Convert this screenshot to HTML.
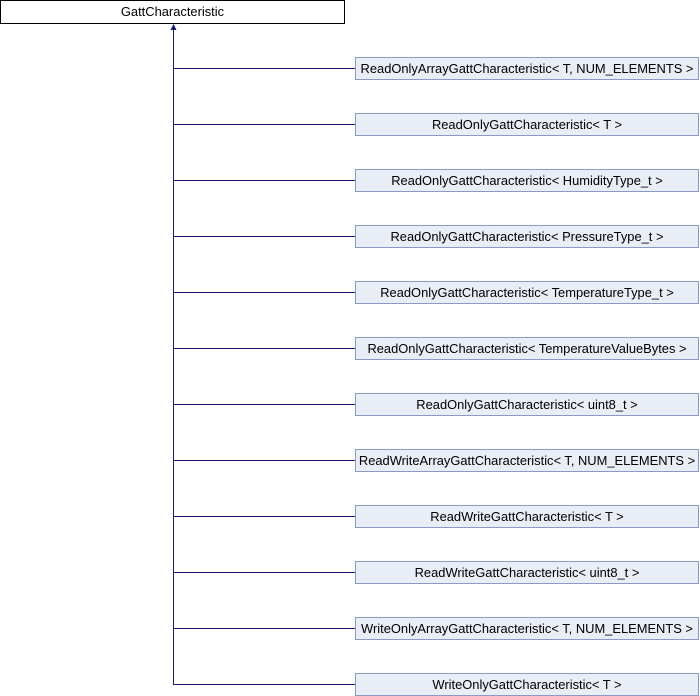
<!DOCTYPE html>
<html><head><style>
body{margin:0;width:700px;height:696px;background:#fff;position:relative;overflow:hidden;font-family:"Liberation Sans",sans-serif;font-size:12.9px;}
.b{position:absolute;box-sizing:border-box;height:23px;line-height:21px;text-align:center;color:#000;white-space:nowrap;}
.c{left:355px;width:344px;background:#e8edf6;border:1px solid #8a9ac4;}
</style></head><body>
<div class="b" style="left:0;top:0;width:345px;height:24px;line-height:22px;background:#fff;border:1px solid #000;">GattCharacteristic</div>
<svg width="700" height="696" style="position:absolute;left:0;top:0">
<g stroke="#191970" stroke-width="1" fill="none">
<line x1="173.5" y1="26" x2="173.5" y2="684"/>
<line x1="173" y1="68.5" x2="355" y2="68.5"/>
<line x1="173" y1="124.5" x2="355" y2="124.5"/>
<line x1="173" y1="180.5" x2="355" y2="180.5"/>
<line x1="173" y1="236.5" x2="355" y2="236.5"/>
<line x1="173" y1="292.5" x2="355" y2="292.5"/>
<line x1="173" y1="348.5" x2="355" y2="348.5"/>
<line x1="173" y1="404.5" x2="355" y2="404.5"/>
<line x1="173" y1="460.5" x2="355" y2="460.5"/>
<line x1="173" y1="516.5" x2="355" y2="516.5"/>
<line x1="173" y1="572.5" x2="355" y2="572.5"/>
<line x1="173" y1="628.5" x2="355" y2="628.5"/>
<line x1="173" y1="684.5" x2="355" y2="684.5"/>
</g>
<polygon points="173.5,24 170.5,30 176.5,30" fill="#191970"/>
</svg>
<div class="b c" style="top:57px">ReadOnlyArrayGattCharacteristic&lt; T, NUM_ELEMENTS &gt;</div>
<div class="b c" style="top:113px">ReadOnlyGattCharacteristic&lt; T &gt;</div>
<div class="b c" style="top:169px">ReadOnlyGattCharacteristic&lt; HumidityType_t &gt;</div>
<div class="b c" style="top:225px">ReadOnlyGattCharacteristic&lt; PressureType_t &gt;</div>
<div class="b c" style="top:281px">ReadOnlyGattCharacteristic&lt; TemperatureType_t &gt;</div>
<div class="b c" style="top:337px">ReadOnlyGattCharacteristic&lt; TemperatureValueBytes &gt;</div>
<div class="b c" style="top:393px">ReadOnlyGattCharacteristic&lt; uint8_t &gt;</div>
<div class="b c" style="top:449px">ReadWriteArrayGattCharacteristic&lt; T, NUM_ELEMENTS &gt;</div>
<div class="b c" style="top:505px">ReadWriteGattCharacteristic&lt; T &gt;</div>
<div class="b c" style="top:561px">ReadWriteGattCharacteristic&lt; uint8_t &gt;</div>
<div class="b c" style="top:617px">WriteOnlyArrayGattCharacteristic&lt; T, NUM_ELEMENTS &gt;</div>
<div class="b c" style="top:673px">WriteOnlyGattCharacteristic&lt; T &gt;</div>
</body></html>
